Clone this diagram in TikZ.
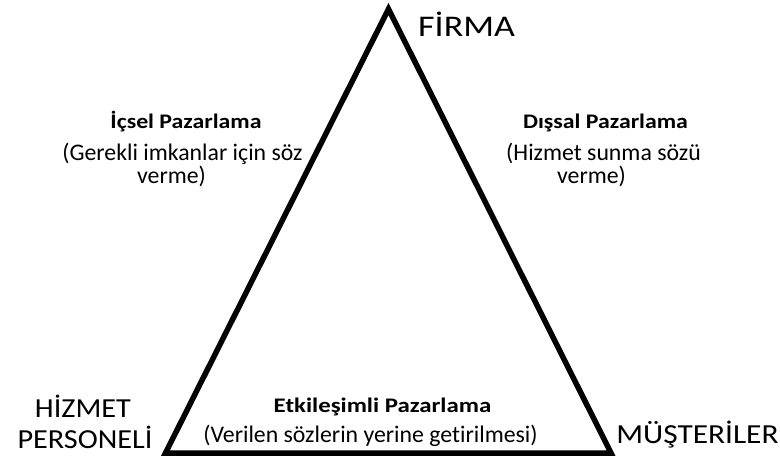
\documentclass[tikz,border=0pt]{standalone}
\usepackage{fontspec}
\usepackage{graphicx}
\setmainfont{Carlito}[Ligatures=NoCommon]
\begin{document}
\begin{tikzpicture}[x=1pt,y=-1pt,
  corner/.style={font=\fontsize{27.5}{30}\selectfont, inner sep=0pt, anchor=base},
  head/.style={font=\bfseries\fontsize{20.7}{22}\selectfont, inner sep=0pt, anchor=base},
  body/.style={font=\fontsize{23.8}{26}\selectfont, inner sep=0pt, anchor=base},
  tri/.style={draw=black, line width=5.5pt, line join=miter}]
\useasboundingbox (0,0) rectangle (780,461);
\coordinate (A) at (388.5,9);
\coordinate (B) at (165.5,453);
\coordinate (C) at (611,453);
\draw[tri] (A) -- (B) -- (C) -- cycle;
\node[corner, font=\fontsize{30}{32}\selectfont, anchor=base west] (firma) at (418,36) {\scalebox{1.2}[1]{FİRMA}};
\node[corner] (hiz) at (83,417) {\scalebox{1.1}[1]{HİZMET}};
\node[corner] (pers) at (85,448) {\scalebox{1.1}[1]{PERSONELİ}};
\node[corner] (must) at (697.5,443) {\scalebox{1.14}[1]{MÜŞTERİLER}};
\node[head] (ic) at (186,128.5) {\scalebox{1.15}[1]{İçsel Pazarlama}};
\node[body] (ic1) at (182.5,160) {(Gerekli imkanlar için söz};
\node[body] (ic2) at (171.5,183) {verme)};
\node[head] (dis) at (605.5,128.5) {\scalebox{1.15}[1]{Dışsal Pazarlama}};
\node[body] (dis1) at (603.5,160) {(Hizmet sunma sözü};
\node[body] (dis2) at (591.5,183) {verme)};
\node[head] (etk) at (382.5,412) {\scalebox{1.2}[1]{Etkileşimli Pazarlama}};
\node[body] (etk1) at (370.5,442) {(Verilen sözlerin yerine getirilmesi)};
\end{tikzpicture}
\end{document}
